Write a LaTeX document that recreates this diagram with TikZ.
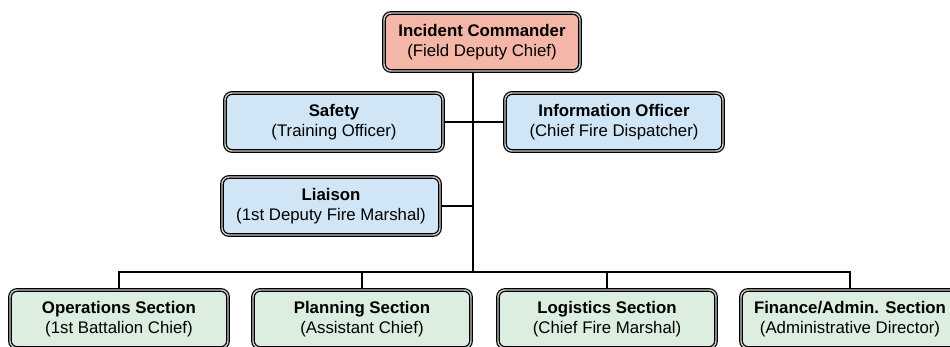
\documentclass[tikz,border=0pt]{standalone}
\usepackage{fontspec}
\setmainfont{Liberation Sans}
\definecolor{icfill}{RGB}{244,182,166}
\definecolor{bluefill}{RGB}{208,230,246}
\definecolor{greenfill}{RGB}{220,238,224}
\definecolor{gapcol}{RGB}{200,200,200}
\begin{document}
\begin{tikzpicture}[x=1pt,y=-1pt,
  orgbox/.style={rectangle, rounded corners=7pt, draw=black, line width=1.2pt,
    double=gapcol, double distance=1.4pt, minimum width=#1, minimum height=58pt,
    inner sep=0pt, align=center, font=\fontsize{16.8}{20.5}\selectfont},
  orgbox/.default=218pt,
  icbox/.style={orgbox=196pt, fill=icfill},
  bluebox/.style={orgbox, fill=bluefill},
  greenbox/.style={orgbox, fill=greenfill},
  link/.style={draw=black, line width=1.5pt}]
\useasboundingbox (0,0) rectangle (950,347);
\clip (0,0) rectangle (950,347);
\fill[white] (0,0) rectangle (950,347);

\node[icbox] (ic) at (482,42) {\textbf{Incident Commander}\\(Field Deputy Chief)};
\node[bluebox] (safety) at (334,122) {\textbf{Safety}\\(Training Officer)};
\node[bluebox] (info) at (614,122) {\textbf{Information Officer}\\(Chief Fire Dispatcher)};
\node[bluebox] (liaison) at (331,206) {\textbf{Liaison}\\(1st Deputy Fire Marshal)};
\node[greenbox] (ops) at (119,319) {\textbf{Operations Section}\\(1st Battalion Chief)};
\node[greenbox] (plan) at (362,319) {\textbf{Planning Section}\\(Assistant Chief)};
\node[greenbox] (log) at (607,319) {\textbf{Logistics Section}\\(Chief Fire Marshal)};
\node[greenbox] (fin) at (850,319) {\textbf{Finance/Admin. Section}\\(Administrative Director)};

\coordinate (trunk) at (473,272);

\draw[link] (ic.south -| trunk) -- (trunk);
\draw[link] (safety.east) -- (info.west);
\draw[link] (liaison.east) -- (liaison.east -| trunk);
\draw[link] (ops.north) |- (trunk) -| (fin.north);
\draw[link] (plan.north) -- (plan.north |- trunk);
\draw[link] (log.north) -- (log.north |- trunk);
\end{tikzpicture}
\end{document}
